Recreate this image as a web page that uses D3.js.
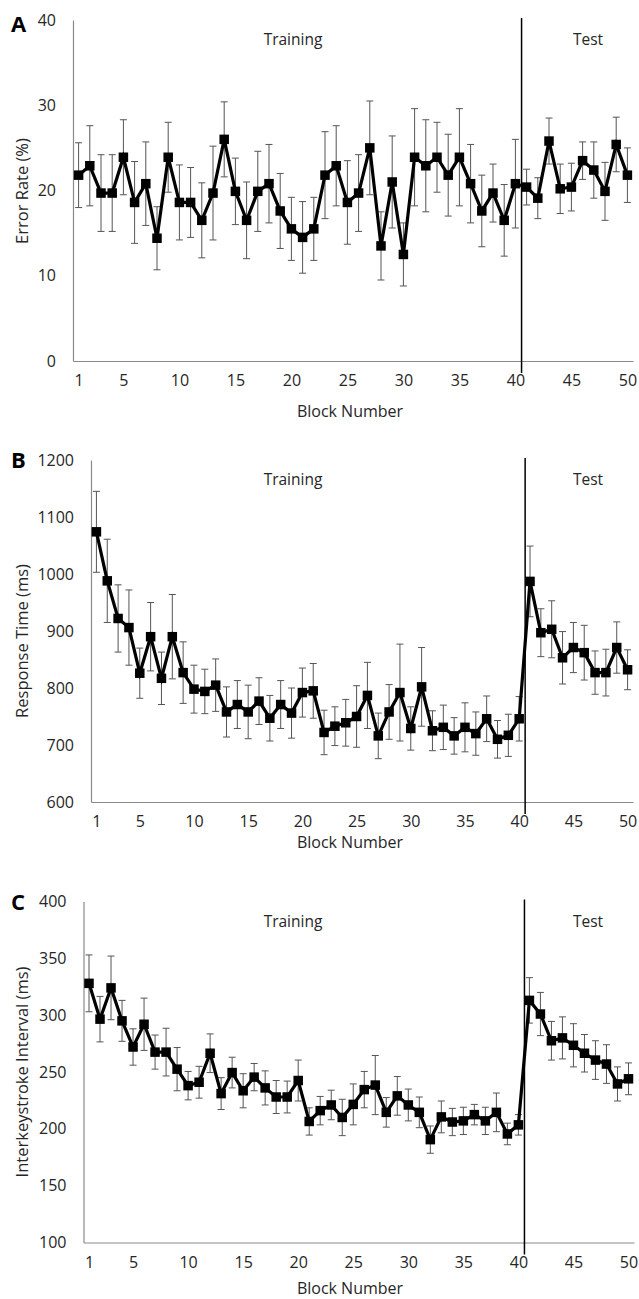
<!DOCTYPE html>
<html>
<head>
<meta charset="utf-8">
<script src="https://cdn.jsdelivr.net/npm/d3@7/dist/d3.min.js"></script>
<style>
  html, body { margin: 0; padding: 0; background: #fff; }
  svg { display: block; }
  text { font-family: "Open Sans", "DejaVu Sans", sans-serif; }
</style>
</head>
<body>
<svg id="chart" width="639" height="1299"></svg>
<script>
// Block numbers (categories) and the labelled ticks on the x axis
const blocks = [1,2,3,4,5,6,7,8,9,10,11,12,13,14,15,16,17,18,19,20,
                21,22,23,24,25,26,27,28,29,30,31,32,33,34,35,36,37,38,39,40,
                41,42,43,44,45,46,47,48,49,50];
const xTickValues = [1,5,10,15,20,25,30,35,40,45,50];
const phaseBoundary = 40.55;
const phaseNames = ["Training", "Test"];

// A: error rate (%) and its error bar half-width
const errorRate = [21.8,22.9,19.7,19.7,23.9,18.6,20.8,14.4,23.9,18.6,
                   18.6,16.5,19.7,26.0,19.9,16.5,19.9,20.8,17.6,15.5,
                   14.5,15.5,21.8,22.9,18.6,19.7,25.0,13.5,21.0,12.5,
                   23.9,22.9,23.9,21.8,23.9,20.8,17.6,19.7,16.5,20.8,
                   20.4,19.1,25.8,20.2,20.4,23.5,22.4,19.9,25.4,21.8];
const errorRateErr = [3.8,4.7,4.5,4.5,4.4,4.8,4.9,3.7,4.1,4.4,
                      4.1,4.4,5.5,4.4,3.9,4.5,4.7,4.6,4.4,3.7,
                      4.2,3.7,5.1,4.7,4.9,4.5,5.5,4.0,5.4,3.7,
                      5.7,5.4,4.1,4.8,5.7,4.6,4.2,3.4,4.2,5.2,
                      2.1,2.4,2.7,2.9,2.8,2.2,3.3,3.4,3.2,3.2];
const errorRateTicks = [0,10,20,30,40];

// B: response time (ms)
const responseTime = [1074,988,922,906,826,890,817,890,827,798,
                      794,805,758,771,758,777,747,771,756,792,
                      795,722,733,739,750,787,716,758,792,729,
                      802,725,731,716,731,720,746,710,717,746,
                      987,897,903,853,871,862,827,827,871,832];
const responseTimeErr = [71,73,59,66,44,60,46,74,54,42,
                         39,46,44,42,47,41,40,42,44,43,
                         48,39,34,41,54,58,40,48,85,38,
                         69,35,39,32,43,38,40,33,37,39,
                         62,42,50,46,44,48,38,41,45,35];
const responseTimeTicks = [600,700,800,900,1000,1100,1200];

// C: interkeystroke interval (ms)
const interval = [328,296.5,324,295,272,292,267.5,267.5,252.5,238,
                  241,266.5,231,249.5,233.5,245.5,236,228,228,242.5,
                  206.5,216,221,210,221.5,234.5,238.5,214.5,229,221,
                  214.5,190.5,210.5,206,207,212.5,207,214.5,195.5,203.5,
                  313,301,277.5,280,273.5,266.5,260.5,257,239.5,244];
const intervalErr = [25,20,28,18,16,23,15,21,19,12.5,
                     14,17,14,13.5,15,12,15,14.5,14,18,
                     12,12.5,13,16,18,16,26,13,17,14,
                     13.5,12,14,12,12,9,12,17,9.5,9,
                     20,19,17,18.5,19,16.5,17,17,15,14];
const intervalTicks = [100,150,200,250,300,350,400];

const panelLetters = ["A", "B", "C"];
const yTitles = ["Error Rate (%)", "Response Time (ms)", "Interkeystroke Interval (ms)"];
const xTitle = "Block Number";

// Layout of each panel: plotting frame plus title/letter placement
const layout = [
  { left: 73,   right: 633, top: 20,    bottom: 361,    letterY: 32,  yTitleY: 191,  xTitleY: 417 },
  { left: 91,   right: 633, top: 460,   bottom: 802,    letterY: 468, yTitleY: 641,  xTitleY: 848 },
  { left: 83.5, right: 634, top: 901.5, bottom: 1242.5, letterY: 910, yTitleY: 1072, xTitleY: 1294 }
];

const panels = [
  { values: errorRate,    errs: errorRateErr,    ticks: errorRateTicks },
  { values: responseTime, errs: responseTimeErr, ticks: responseTimeTicks },
  { values: interval,     errs: intervalErr,     ticks: intervalTicks }
];

const svg = d3.select("#chart");
const axisColor = "#8a8a8a";
const textColor = "#262626";

panels.forEach((p, i) => {
  const L = layout[i];
  const g = svg.append("g");

  const x = d3.scaleLinear().domain([0.5, 50.5]).range([L.left, L.right]);
  const y = d3.scaleLinear().domain(d3.extent(p.ticks)).range([L.bottom, L.top]);

  // y axis
  const yAx = g.append("g")
    .attr("transform", `translate(${L.left},0)`)
    .call(d3.axisLeft(y).tickValues(p.ticks).tickFormat(d3.format("d"))
      .tickSize(0).tickPadding(17).tickSizeOuter(0));
  yAx.select(".domain").attr("stroke", axisColor).attr("stroke-width", 1.2);
  yAx.selectAll("text").attr("font-size", 16).attr("fill", textColor)
     .attr("font-family", '"Open Sans", sans-serif');

  // x axis
  const xAx = g.append("g")
    .attr("transform", `translate(0,${L.bottom})`)
    .call(d3.axisBottom(x).tickValues(xTickValues).tickFormat(d3.format("d"))
      .tickSize(0).tickPadding(14).tickSizeOuter(0));
  xAx.select(".domain").attr("stroke", axisColor).attr("stroke-width", 1.2);
  xAx.selectAll("text").attr("font-size", 16).attr("fill", textColor)
     .attr("font-family", '"Open Sans", sans-serif');

  // axis titles
  g.append("text")
    .attr("transform", `translate(21,${L.yTitleY}) rotate(-90)`)
    .attr("text-anchor", "middle")
    .attr("dominant-baseline", "central")
    .attr("font-size", 16.5)
    .attr("fill", textColor)
    .text(yTitles[i]);

  g.append("text")
    .attr("x", 350)
    .attr("y", L.xTitleY)
    .attr("text-anchor", "middle")
    .attr("font-size", 16)
    .attr("fill", textColor)
    .text(xTitle);

  // panel letter
  g.append("text")
    .attr("x", 11)
    .attr("y", L.letterY)
    .attr("font-size", 22)
    .attr("font-weight", "bold")
    .attr("fill", "#000")
    .text(panelLetters[i]);

  // phase divider and labels
  g.append("line")
    .attr("x1", x(phaseBoundary)).attr("x2", x(phaseBoundary))
    .attr("y1", L.top - 2).attr("y2", L.bottom + 12)
    .attr("stroke", "#000").attr("stroke-width", 1.5);

  g.append("text")
    .attr("x", 293).attr("y", L.top + 25)
    .attr("text-anchor", "middle").attr("font-size", 15.5).attr("fill", textColor)
    .text(phaseNames[0]);
  g.append("text")
    .attr("x", 588).attr("y", L.top + 25)
    .attr("text-anchor", "middle").attr("font-size", 15.5).attr("fill", textColor)
    .text(phaseNames[1]);

  const rows = blocks.map((b, k) => ({ b, v: p.values[k], e: p.errs[k] }));

  // error bars
  const eb = g.append("g").attr("stroke", "#555").attr("stroke-width", 1);
  eb.selectAll("line.v").data(rows).join("line").attr("class", "v")
    .attr("x1", d => x(d.b)).attr("x2", d => x(d.b))
    .attr("y1", d => y(d.v - d.e)).attr("y2", d => y(d.v + d.e));
  eb.selectAll("line.t").data(rows).join("line").attr("class", "t")
    .attr("x1", d => x(d.b) - 3.5).attr("x2", d => x(d.b) + 3.5)
    .attr("y1", d => y(d.v + d.e)).attr("y2", d => y(d.v + d.e));
  eb.selectAll("line.bt").data(rows).join("line").attr("class", "bt")
    .attr("x1", d => x(d.b) - 3.5).attr("x2", d => x(d.b) + 3.5)
    .attr("y1", d => y(d.v - d.e)).attr("y2", d => y(d.v - d.e));

  // mean line
  g.append("path")
    .datum(rows)
    .attr("fill", "none")
    .attr("stroke", "#000")
    .attr("stroke-width", 3.2)
    .attr("stroke-linejoin", "miter")
    .attr("d", d3.line().x(d => x(d.b)).y(d => y(d.v)));

  // square markers
  const s = 9.5;
  g.selectAll("rect.m").data(rows).join("rect").attr("class", "m")
    .attr("x", d => x(d.b) - s / 2)
    .attr("y", d => y(d.v) - s / 2)
    .attr("width", s).attr("height", s)
    .attr("fill", "#000");
});
</script>
</body>
</html>
